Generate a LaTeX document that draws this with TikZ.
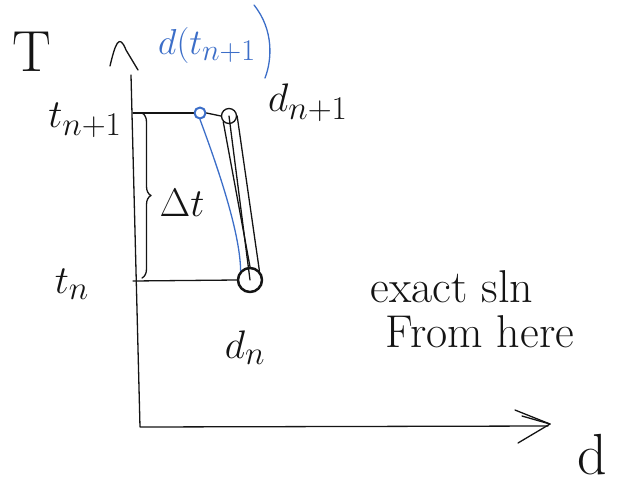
\documentclass[tikz,border=0pt]{standalone}
\usetikzlibrary{decorations.pathreplacing,arrows.meta}
\definecolor{pen}{RGB}{20,20,20}
\definecolor{bluepen}{RGB}{60,110,200}
\tikzset{
  ink/.style={draw=pen, line width=1.3pt, line cap=round, line join=round},
  blueink/.style={draw=bluepen, line width=1.3pt, line cap=round, line join=round},
  lbl/.style={text=pen, inner sep=0pt, font=\fontsize{46}{52}\selectfont},
  biglbl/.style={text=pen, inner sep=0pt, font=\fontsize{58}{64}\selectfont},
  mlbl/.style={text=pen, inner sep=0pt, font=\Huge, scale=1.6},
  bluelbl/.style={text=bluepen, inner sep=0pt, font=\Huge, scale=1.45},
}
\begin{document}
\begin{tikzpicture}[x=1pt,y=-1pt]
\useasboundingbox (0,0) rectangle (623,487);
% axes
\coordinate (ytop) at (131,75);
\coordinate (origin) at (140,427);
\coordinate (xend) at (548,426);
\draw[ink] (ytop) -- (origin) -- (xend);
% y-axis caret
\draw[ink] (110,66) .. controls (115,45) and (119,32) .. (126,50) -- (138,70);
% x-axis double chevron
\draw[ink] (515,410) -- (550,424) -- (518,443);
\draw[ink] (522,416) -- (550,424);
% axis labels
\node[biglbl] (tlab) at (32,52) {T};
\node[biglbl] (dlab) at (592,455) {d};
% time levels
\coordinate (a1) at (133,113);
\coordinate (a0) at (133,281);
\node[ink, circle, minimum size=15pt, inner sep=0pt] (dnp1pt) at (229,116) {};
\node[blueink, circle, minimum size=11pt, inner sep=0pt, line width=2pt] (bluept) at (200,113) {};
\node[ink, circle, minimum size=24pt, inner sep=0pt, line width=2.5pt] (dnpt) at (250,280) {};
\draw[ink] (a1) -- (bluept.west);
\draw[ink] (bluept.east) -- (dnp1pt.west);
\draw[ink] (a0) -- (dnpt.west);
% lines from d_n to d_{n+1}
\draw[ink] (dnp1pt.center) -- (dnpt.center);
\draw[ink] (dnp1pt.south west) -- (dnpt.north);
\draw[ink] (dnp1pt.east) -- (dnpt.north east);
% blue curve
\draw[blueink] (bluept.south) .. controls (215,160) and (240,230) .. (dnpt.north west);
% brace
\draw[ink, decorate, decoration={brace, amplitude=9pt}] (142,113) -- (142,278);
\node[mlbl] (dt) at (182,203) {$\Delta t$};
% labels
\node[mlbl] (tn1) at (85,120) {$t_{n+1}$};
\node[mlbl] (tn) at (72,284) {$t_n$};
\node[mlbl] (dn1) at (308,103) {$d_{n+1}$};
\node[mlbl] (dn) at (245,348) {$d_n$};
\node[bluelbl] (dbt) at (207,45) {$d(t_{n+1}$};
\draw[blueink] (254,5) .. controls (274,30) and (272,60) .. (265,78);
\node[lbl] (exact) at (452,287) {exact sln};
\node[lbl] (from) at (480,332) {From here};
\end{tikzpicture}
\end{document}
